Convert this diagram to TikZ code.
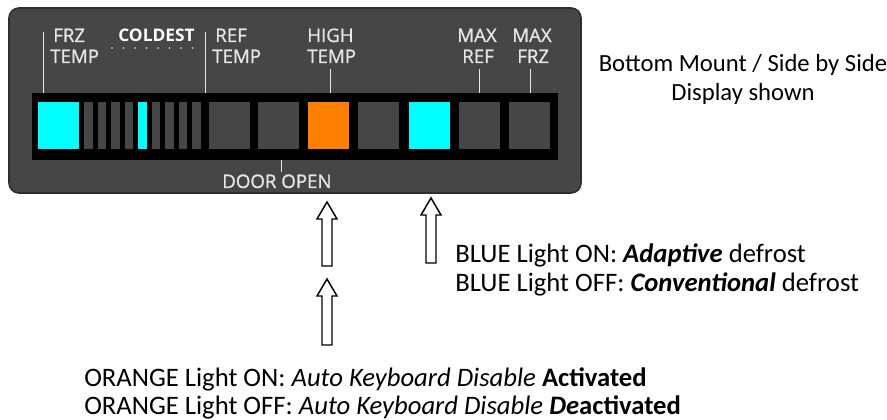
\documentclass[tikz,border=0pt]{standalone}
\usepackage{fontspec}
\setmainfont{Carlito}
\newfontfamily\panelfont[BoldFont={Open Sans},BoldFeatures={FakeBold=0.9}]{Open Sans}
\newfontfamily\panelboldfont{Open Sans Bold}
\definecolor{panelgray}{HTML}{464646}
\definecolor{paneledge}{HTML}{2E2E2E}
\definecolor{lblgray}{HTML}{E6E6E6}
\definecolor{ledcyan}{HTML}{00FFFF}
\definecolor{ledorange}{HTML}{FF7F00}
\begin{document}
\begin{tikzpicture}[x=0.75pt,y=-0.75pt,
  panelbox/.style={fill=panelgray, draw=paneledge, line width=1.2pt, rounded corners=7.5pt},
  cell/.style={fill=panelgray},
  lbl/.style={text=lblgray, font=\panelfont\bfseries\fontsize{14}{16}\selectfont, inner sep=0, anchor=base west},
  tickline/.style={draw=lblgray, line width=0.7pt},
  note/.style={font=\fontsize{20}{24}\selectfont, inner sep=0, anchor=base west},
  blockarrow/.style={draw=black, fill=white, line width=1.1pt, line join=miter}
]
\useasboundingbox (0,0) rectangle (887,420);
% panel
\draw[panelbox] (9,8) rectangle (581,193);
\fill[black] (32,93) rectangle (558,160);
% big cells
\fill[ledcyan] (38,102) rectangle (79,149);
\foreach \i in {0,...,8} {
  \pgfmathsetmacro{\xl}{84+\i*13.5}
  \ifnum\i=4
    \fill[ledcyan] (\xl,102) rectangle ++(8.5,47);
  \else
    \fill[cell] (\xl,102) rectangle ++(8.5,47);
  \fi
}
\fill[cell] (209,102) rectangle (250,149);
\fill[cell] (258,102) rectangle (299,149);
\fill[ledorange] (308,102) rectangle (349,149);
\fill[cell] (358,102) rectangle (399,149);
\fill[ledcyan] (409,102) rectangle (450,149);
\fill[cell] (459,102) rectangle (500,149);
\fill[cell] (509,102) rectangle (550,149);
% tick lines
\draw[tickline] (43,32) -- (43,93);
\draw[tickline] (205,32) -- (205,93);
\draw[tickline] (330,69) -- (330,93);
\draw[tickline] (479,69) -- (479,93);
\draw[tickline] (530,69) -- (530,93);
\draw[tickline] (281,160) -- (281,172);
% labels
\node[lbl] (frz1) at (53,42) {FRZ};
\node[lbl] (frz2) at (50,63) {TEMP};
\node[lbl, font=\panelboldfont\fontsize{13}{15}\selectfont, text=white] (cold) at (118,42) {COLDEST};
\foreach \i in {0,...,7} { \fill[lblgray] (112+\i*11.5,48) circle (0.9); }
\node[lbl] (ref1) at (215,42) {REF};
\node[lbl] (ref2) at (212,63) {TEMP};
\node[lbl] (hi1) at (307,42) {HIGH};
\node[lbl] (hi2) at (307,63) {TEMP};
\node[lbl] (mr1) at (457,42) {MAX};
\node[lbl] (mr2) at (462,63) {REF};
\node[lbl] (mf1) at (512,42) {MAX};
\node[lbl] (mf2) at (517,63) {FRZ};
\node[lbl] (door) at (222,188) {DOOR OPEN};
% right note
\node[note, anchor=base, font=\fontsize{18.5}{22}\selectfont] (shown1) at (743,72) {Bottom Mount / Side by Side};
\node[note, anchor=base, font=\fontsize{18.5}{22}\selectfont] (shown2) at (743,101) {Display shown};
% arrows
\draw[blockarrow] (327,202) -- (337,219) -- (332,219) -- (332,266) -- (322,266) -- (322,219) -- (317,219) -- cycle;
\draw[blockarrow] (327,279) -- (337,296) -- (332,296) -- (332,345) -- (322,345) -- (322,296) -- (317,296) -- cycle;
\draw[blockarrow] (431,198) -- (441,215) -- (436,215) -- (436,263) -- (426,263) -- (426,215) -- (421,215) -- cycle;
% notes
\node[note] (b1) at (455,262) {BLUE Light ON: \textbf{\textit{Adaptive}} defrost};
\node[note] (b2) at (455,291) {BLUE Light OFF: \textbf{\textit{Conventional}} defrost};
\node[note] (o1) at (84,386) {ORANGE Light ON: \textit{Auto Keyboard Disable} \textbf{Activated}};
\node[note] (o2) at (84,414.5) {ORANGE Light OFF: \textit{Auto Keyboard Disable} \textbf{\textit{De}activated}};
\end{tikzpicture}
\end{document}
